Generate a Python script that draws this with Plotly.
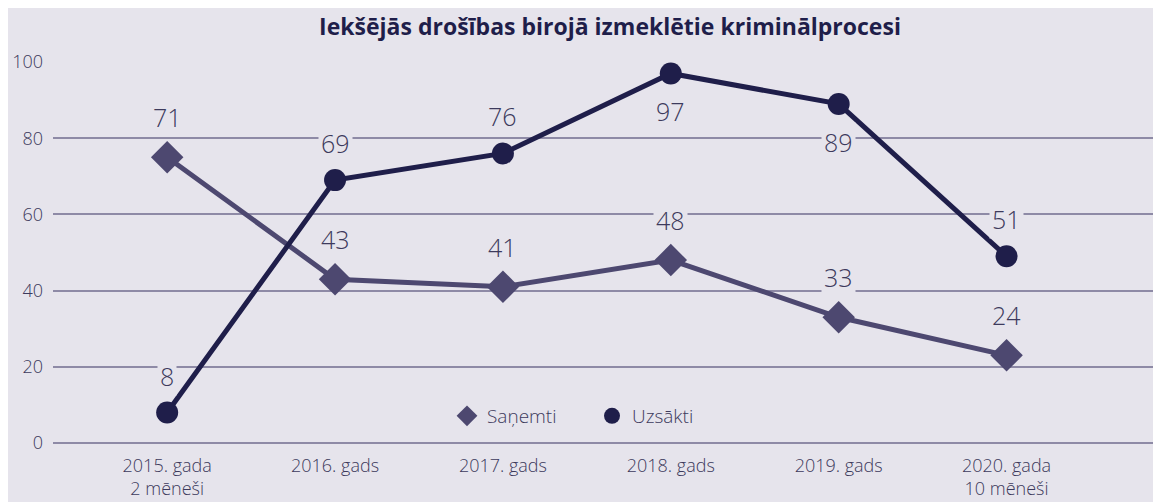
import plotly.graph_objects as go

categories = ["2015. gada<br>2 mēneši", "2016. gads", "2017. gads", "2018. gads", "2019. gads", "2020. gada<br>10 mēneši"]
sanemti_values = [75, 43, 41, 48, 33, 23]
sanemti_labels = ["71", "43", "41", "48", "33", "24"]
uzsakti_values = [8, 69, 76, 97, 89, 49]
uzsakti_labels = ["8", "69", "76", "97", "89", "51"]
uzsakti_label_pos = ["above", "above", "above", "below", "below", "above"]

BG = "#e6e4ec"
C_SAN = "#4d4870"
C_UZS = "#1f1e4a"
TXT = "#3d3a5c"
GRID = "#8e8aa6"
FONT = "Open Sans"

xs = list(range(len(categories)))

fig = go.Figure()
fig.add_trace(go.Scatter(x=xs, y=sanemti_values, mode="lines", line=dict(color=C_SAN, width=5),
                         showlegend=False, hoverinfo="skip", cliponaxis=False))
fig.add_trace(go.Scatter(x=xs, y=uzsakti_values, mode="lines", line=dict(color=C_UZS, width=5),
                         showlegend=False, hoverinfo="skip", cliponaxis=False))
fig.add_trace(go.Scatter(x=xs, y=sanemti_values, mode="markers", name="Saņemti",
                         marker=dict(symbol="diamond", size=25, color=C_SAN), cliponaxis=False))
fig.add_trace(go.Scatter(x=xs, y=uzsakti_values, mode="markers", name="Uzsākti",
                         marker=dict(symbol="circle", size=22, color=C_UZS), cliponaxis=False))

ann = []
for i, (v, t) in enumerate(zip(sanemti_values, sanemti_labels)):
    ann.append(dict(x=i, y=v, text=t, showarrow=False, yshift=40, bgcolor=BG, borderpad=2,
                    font=dict(family=FONT, size=25, color=TXT, weight=300)))
for i, (v, t, p) in enumerate(zip(uzsakti_values, uzsakti_labels, uzsakti_label_pos)):
    ann.append(dict(x=i, y=v, text=t, showarrow=False, yshift=37 if p == "above" else -38,
                    bgcolor=BG, borderpad=2,
                    font=dict(family=FONT, size=25, color=TXT, weight=300)))

W, H = 1153, 494
fig.update_layout(
    width=W, height=H,
    paper_bgcolor=BG, plot_bgcolor=BG,
    margin=dict(l=45, r=0, t=54, b=59),
    title=dict(text="<b>Iekšējās drošības birojā izmeklētie kriminālprocesi</b>",
               x=(610 - 8) / W, xanchor="center", y=1 - 19 / H, yanchor="middle",
               font=dict(family=FONT, size=23, color=C_UZS)),
    xaxis=dict(tickmode="array", tickvals=xs, ticktext=categories, range=[-0.68, 5.92],
               showgrid=False, zeroline=False, showline=False, ticks="", ticklabelstandoff=10,
               tickfont=dict(family=FONT, size=18, color=TXT, weight=300)),
    yaxis=dict(range=[0, 100], dtick=20, showgrid=True, gridcolor=GRID, gridwidth=1.5,
               zeroline=True, zerolinecolor=GRID, zerolinewidth=1.5, ticks="", ticklabelstandoff=9,
               tickfont=dict(family=FONT, size=18, color=TXT, weight=300)),
    legend=dict(orientation="h", x=(467 - 20 - 53) / 1108, xanchor="left", y=27 / 381, yanchor="middle",
                bgcolor="rgba(0,0,0,0)", font=dict(family=FONT, size=19, color=TXT, weight=300),
                itemsizing="trace", entrywidth=100, entrywidthmode="pixels"),
    annotations=ann,
    showlegend=True,
)

fig.write_html("out.html")
